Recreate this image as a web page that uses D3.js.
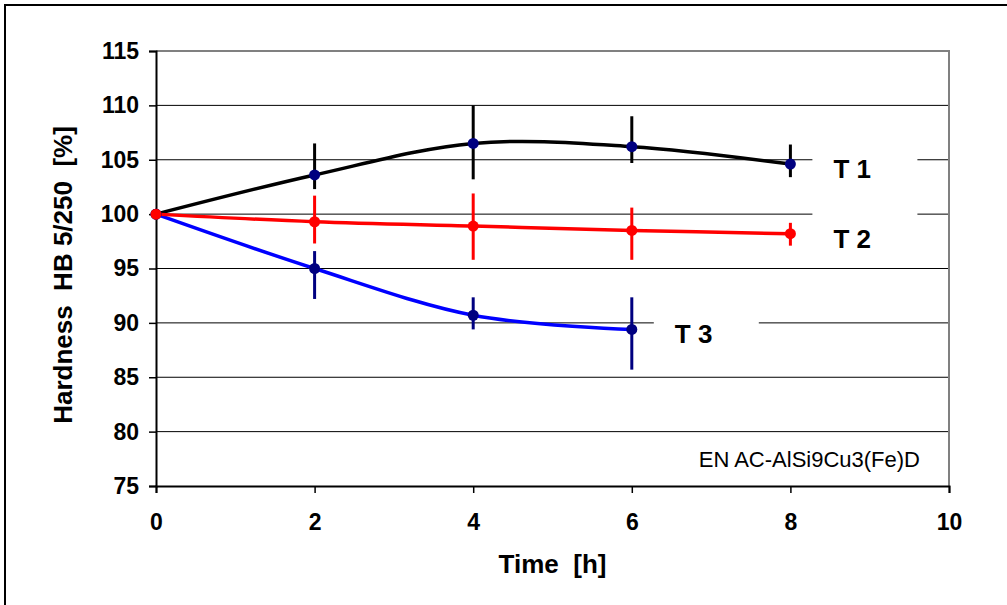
<!DOCTYPE html>
<html>
<head>
<meta charset="utf-8">
<script src="https://cdn.jsdelivr.net/npm/d3@7"></script>
<style>
body { margin: 0; background: #fff; }
svg text { font-family: "Liberation Sans", Arial, sans-serif; }
</style>
</head>
<body>
<div class="chart-wrapper"></div>
<script>
// values
const times = [0, 2, 4, 6, 8]
const t1 = [100, 103.6, 106.5, 106.2, 104.6]
const t1Lo = [null, 102.3, 103.2, 104.7, 103.4]
const t1Hi = [null, 106.5, 110.0, 109.0, 106.4]
const t2 = [100, 99.3, 98.9, 98.5, 98.2]
const t2Lo = [null, 97.3, 95.8, 95.8, 97.1]
const t2Hi = [null, 101.7, 101.9, 100.6, 99.2]
const t3 = [100, 95.0, 90.7, 89.4]
const t3Lo = [null, 92.2, 89.4, 85.7]
const t3Hi = [null, 96.6, 92.35, 92.35]

const seriesNames = ['T 1', 'T 2', 'T 3']
const xTicks = [0, 2, 4, 6, 8, 10]
const yTicks = [75, 80, 85, 90, 95, 100, 105, 110, 115]
const note = 'EN AC-AlSi9Cu3(Fe)D'

const width = 1007, height = 605
const margin = {left:156, top:51, right:58, bottom:119}

const svg = d3.select('.chart-wrapper')
.append('svg')
.attr('width', width)
.attr('height', height)

// outer frame
svg.append('path')
.attr('d', `M5,${height} V5 H${width}`)
.attr('fill', 'none')
.attr('stroke', '#000')
.attr('stroke-width', 2)

const xScale = d3.scaleLinear()
.domain([0, 10])
.range([margin.left, width - margin.right])

const yScale = d3.scaleLinear()
.domain([75, 115])
.range([height - margin.bottom, margin.top])

const grid = svg.append('g')
const axis = svg.append('g')
const bars = svg.append('g')
const lines = svg.append('g')
const dots = svg.append('g')
const labels = svg.append('g')

// gridlines
grid.selectAll('line')
.data(yTicks.filter(d => d > 75 && d < 115))
.join('line')
.attr('x1', xScale(0))
.attr('x2', xScale(10))
.attr('y1', d => yScale(d))
.attr('y2', d => yScale(d))
.attr('stroke', '#000')
.attr('stroke-width', 1)

// plot border (top + right)
grid.append('path')
.attr('d', `M${xScale(0)},${yScale(115)} H${xScale(10)} V${yScale(75)}`)
.attr('fill', 'none')
.attr('stroke', '#808080')
.attr('stroke-width', 2)

let xaxis = axis.append('g')
.attr('transform', `translate(0,${yScale(75)})`)
.call(d3.axisBottom(xScale).tickValues(xTicks).tickSize(7).tickPadding(21).tickFormat(d3.format('d')))

let yaxis = axis.append('g')
.attr('transform', `translate(${xScale(0)},0)`)
.call(d3.axisLeft(yScale).tickValues(yTicks).tickSize(7).tickPadding(10).tickFormat(d3.format('d')))

axis.selectAll('.domain').attr('stroke', '#000').attr('stroke-width', 2)
axis.selectAll('.tick line').attr('stroke', '#000').attr('stroke-width', 1.5)
axis.selectAll('.tick text')
.attr('font-family', '"Liberation Sans", Arial, sans-serif')
.attr('font-size', 23)
.attr('font-weight', 'bold')
.attr('fill', '#000')

axis.append('text')
.attr('x', (xScale(0) + xScale(10)) / 2)
.attr('y', 573)
.attr('text-anchor', 'middle')
.attr('font-size', 26)
.attr('font-weight', 'bold')
.attr('xml:space', 'preserve')
.text('Time  [h]')

axis.append('text')
.attr('transform', `translate(72,275) rotate(-90)`)
.attr('text-anchor', 'middle')
.attr('font-size', 26)
.attr('font-weight', 'bold')
.attr('xml:space', 'preserve')
.text('Hardness  HB 5/250  [%]')

const series = [
	{name:seriesNames[0], vals:t1, lo:t1Lo, hi:t1Hi, line:'#000', dot:'#000080', bar:'#000'},
	{name:seriesNames[2], vals:t3, lo:t3Lo, hi:t3Hi, line:'#0000ff', dot:'#000080', bar:'#000080'},
	{name:seriesNames[1], vals:t2, lo:t2Lo, hi:t2Hi, line:'#ff0000', dot:'#ff0000', bar:'#ff0000'}
]

const line = d3.line()
.curve(d3.curveCardinal.tension(0))
.x(d => xScale(d.t))
.y(d => yScale(d.v))

series.forEach(s => {

	let pts = s.vals.map((v,i) => ({t:times[i], v:v, lo:s.lo[i], hi:s.hi[i]}))

	lines.append('path')
	.attr('d', line(pts))
	.attr('fill', 'none')
	.attr('stroke', s.line)
	.attr('stroke-width', 3.5)

	bars.selectAll(null)
	.data(pts.filter(d => d.lo != null))
	.join('line')
	.attr('x1', d => xScale(d.t))
	.attr('x2', d => xScale(d.t))
	.attr('y1', d => yScale(d.hi))
	.attr('y2', d => yScale(d.lo))
	.attr('stroke', s.bar)
	.attr('stroke-width', 3)

	dots.selectAll(null)
	.data(pts)
	.join('circle')
	.attr('cx', d => xScale(d.t))
	.attr('cy', d => yScale(d.v))
	.attr('r', 5.5)
	.attr('fill', s.dot)

	// label with white box, right of the last point
	let last = pts[pts.length - 1]
	let lx = xScale(last.t), ly = yScale(last.v)

	labels.append('rect')
	.attr('x', lx + 22)
	.attr('y', ly - 22)
	.attr('width', 105)
	.attr('height', 50)
	.attr('fill', '#fff')

	labels.append('text')
	.attr('x', lx + 43)
	.attr('y', ly + 14)
	.attr('font-size', 26)
	.attr('font-weight', 'bold')
	.attr('xml:space', 'preserve')
	.text(s.name)
})

labels.append('text')
.attr('x', xScale(10) - 29)
.attr('y', yScale(76.75))
.attr('text-anchor', 'end')
.attr('font-size', 22)
.text(note)

</script>
</body>
</html>
